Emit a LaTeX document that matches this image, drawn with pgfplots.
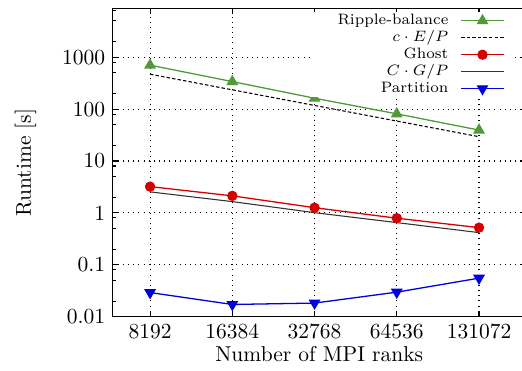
\documentclass[border=0pt]{standalone}
\usepackage{pgfplots}
\pgfplotsset{compat=1.18}
\definecolor{rgreen}{RGB}{80,155,55}
\definecolor{gred}{RGB}{215,0,0}
\definecolor{pblue}{RGB}{0,0,220}
\begin{document}
\begin{tikzpicture}
\begin{axis}[
 at={(0,0)}, anchor=south west,
 scale only axis, width=192.2pt, height=143.3pt,
 xmin=-0.455, xmax=4.57,
 ymode=log, ymin=0.01, ymax=8630,
 xtick={0,...,4}, xticklabels={8192,16384,32768,64536,131072},
 ytick={0.01,0.1,1,10,100,1000}, yticklabels={0.01,0.1,1,10,100,1000},
 minor ytick={0.02,0.05,0.08,0.2,0.5,0.8,2,5,8,20,50,80,200,500,800,2000,5000,8000},
 grid=major, major grid style={black, dotted, line width=0.5pt},
 tick align=inside, major tick length=2.6pt, minor tick length=1.5pt,
 every tick/.style={black, line width=0.5pt},
 axis line style={line width=0.7pt},
 xlabel={Number of MPI ranks}, ylabel={Runtime [s]},
 every axis x label/.style={at={(axis description cs:0.5,0)}, anchor=base, yshift=-20.9pt},
 every axis y label/.style={at={(rel axis cs:-0.2107,0.5)}, rotate=90, anchor=center},
 legend style={at={(0.964,0.9895)}, anchor=north east, draw=none, fill=white,
   inner xsep=2.8pt, inner ysep=0pt, font=\scriptsize, row sep=0pt, /tikz/column sep=5pt,
   nodes={inner sep=0.6pt, text height=5.2pt, text depth=1.5pt, text width=61pt, align=right}},
 legend plot pos=right, legend cell align=right,
 legend image code/.code={\draw[mark repeat=2,mark phase=2,#1] plot coordinates {(0cm,0cm) (0.35cm,0cm) (0.7cm,0cm)};},
]
\addplot[color=rgreen, line width=0.6pt, mark=triangle*, mark size=2.6pt, mark options={solid}] coordinates {(0,702)(1,339)(2,162)(3,81)(4,39.4)};
\addlegendentry{Ripple-balance}
\addplot[black, line width=0.5pt, dash pattern=on 1.6pt off 1pt] coordinates {(0,470)(1,235)(2,117.5)(3,58.8)(4,29.4)};
\addlegendentry{\mbox{$c\cdot E/P$}}
\addplot[gred, line width=0.6pt, mark=*, mark size=2.1pt] coordinates {(0,3.21)(1,2.13)(2,1.26)(3,0.79)(4,0.52)};
\addlegendentry{Ghost}
\addplot[black!80, line width=0.5pt] coordinates {(0,2.54)(1,1.65)(2,1.01)(3,0.65)(4,0.417)};
\addlegendentry{\mbox{$C\cdot G/P$}}
\addplot[pblue, line width=0.6pt, mark=triangle*, mark size=2.6pt, mark options={rotate=180}] coordinates {(0,0.0292)(1,0.0172)(2,0.0183)(3,0.0297)(4,0.0553)};
\addlegendentry{Partition}
\end{axis}
\pgfresetboundingbox
\useasboundingbox (-52.4pt,-24.8pt) rectangle (190.4pt,147.3pt);
\end{tikzpicture}
\end{document}
